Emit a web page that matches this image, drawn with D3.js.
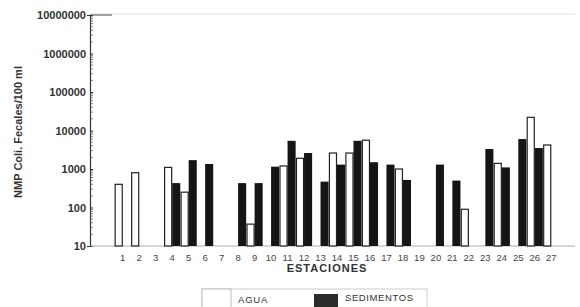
<!DOCTYPE html>
<html>
<head>
<meta charset="utf-8">
<script src="https://cdn.jsdelivr.net/npm/d3@7/dist/d3.min.js"></script>
<style>
  body { margin: 0; background: #fff; }
  svg { font-family: "Liberation Sans", Arial, sans-serif; }
</style>
</head>
<body>
<div id="chart"></div>
<script>
// Estaciones de muestreo (1..27)
const estaciones = d3.range(1, 28).map(String);

// NMP coliformes fecales / 100 ml (null = sin barra)
const agua = [400, 800, null, 1100, 250, null, null, null, 37, null,
              1200, 1900, null, 2600, 2600, 5600, null, 1000, null, null,
              null, 90, null, 1400, null, 22000, 4200];
const sedimentos = [null, null, null, 430, 1700, 1350, null, 430, 430, 1150,
                    5400, 2600, 470, 1300, 5400, 1500, 1300, 520, null, 1300,
                    500, null, 3300, 1100, 6000, 3500, null];

const yTicks = [10, 100, 1000, 10000, 100000, 1000000, 10000000];

const width = 580, height = 307;
const svg = d3.select("#chart").append("svg")
    .attr("width", width)
    .attr("height", height);

// Escalas
const x = d3.scaleBand()
    .domain(estaciones)
    .range([114.5, 559.5])
    .padding(0);

const inner = d3.scaleBand()
    .domain(["agua", "sedimentos"])
    .range([0, x.bandwidth()])
    .paddingInner(0)
    .paddingOuter(0.02);

const y = d3.scaleLog()
    .domain([10, 10000000])
    .range([246, 15]);

// borde superior tenue del marco
svg.append("line")
    .attr("x1", 90).attr("x2", 575)
    .attr("y1", 14).attr("y2", 14)
    .attr("stroke", "#e4e4e4");

// Eje Y con marcas menores
const yAxis = d3.axisLeft(y)
    .tickValues(yTicks)
    .tickFormat(d3.format("d"))
    .tickSize(3);

const gy = svg.append("g")
    .attr("transform", "translate(90,0)")
    .call(yAxis);
gy.select(".domain").attr("stroke", "#333").attr("stroke-width", 1.2);
gy.selectAll(".tick line").attr("x2", 3).attr("stroke", "#333");
gy.selectAll(".tick text")
    .attr("x", -4)
    .style("font-size", "11px")
    .style("font-weight", "bold")
    .attr("fill", "#333");

// marcas menores (2..9 de cada decada)
const menores = [];
for (let e = 1; e < 7; e++) {
  for (let k = 2; k < 10; k++) menores.push(k * Math.pow(10, e));
}
svg.append("g").selectAll("line")
  .data(menores)
  .join("line")
    .attr("x1", 90).attr("x2", 93)
    .attr("y1", d => y(d)).attr("y2", d => y(d))
    .attr("stroke", "#555")
    .attr("stroke-width", 0.7);

// linea corta en el tope
svg.append("line")
    .attr("x1", 90).attr("x2", 112)
    .attr("y1", 15).attr("y2", 15)
    .attr("stroke", "#444");

// Eje X
svg.append("line")
    .attr("x1", 90).attr("x2", 575)
    .attr("y1", y(10)).attr("y2", y(10))
    .attr("stroke", "#999")
    .attr("stroke-width", 0.8);

svg.append("g").selectAll("text")
  .data(estaciones)
  .join("text")
    .attr("x", d => x(d) + x.bandwidth() / 2)
    .attr("y", 261)
    .attr("text-anchor", "middle")
    .style("font-size", "9.5px")
    .attr("fill", "#444")
    .text(d => d);

// Barras
const filas = estaciones.map((e, i) => ({ estacion: e, agua: agua[i], sedimentos: sedimentos[i] }));

const grupos = svg.append("g").selectAll("g")
  .data(filas)
  .join("g")
    .attr("transform", d => `translate(${x(d.estacion)},0)`);

grupos.filter(d => d.agua !== null)
  .append("rect")
    .attr("x", inner("agua") + 0.5)
    .attr("width", inner.bandwidth() - 1)
    .attr("y", d => y(d.agua))
    .attr("height", d => y(10) - y(d.agua))
    .attr("fill", "#fff")
    .attr("stroke", "#222")
    .attr("stroke-width", 1.2);

grupos.filter(d => d.sedimentos !== null)
  .append("rect")
    .attr("x", inner("sedimentos"))
    .attr("width", inner.bandwidth())
    .attr("y", d => y(d.sedimentos))
    .attr("height", d => y(10) - y(d.sedimentos))
    .attr("fill", "#151515");

// Titulos de ejes
svg.append("text")
    .attr("transform", "translate(22,132) rotate(-90)")
    .attr("text-anchor", "middle")
    .style("font-size", "11px")
    .style("font-weight", "bold")
    .attr("fill", "#333")
    .text("NMP Coli. Fecales/100 ml");

svg.append("text")
    .attr("x", 327)
    .attr("y", 272)
    .attr("text-anchor", "middle")
    .style("font-size", "11px")
    .style("font-weight", "bold")
    .style("letter-spacing", "1px")
    .attr("fill", "#333")
    .text("ESTACIONES");

// Leyenda
const leyenda = svg.append("g");
leyenda.append("rect")
    .attr("x", 202).attr("y", 289)
    .attr("width", 225).attr("height", 22)
    .attr("fill", "none")
    .attr("stroke", "#ccc");
leyenda.append("rect")
    .attr("x", 202).attr("y", 289)
    .attr("width", 29).attr("height", 22)
    .attr("fill", "#fff")
    .attr("stroke", "#bbb");
leyenda.append("text")
    .attr("x", 238).attr("y", 303)
    .style("font-size", "9.5px")
    .style("letter-spacing", "0.8px")
    .attr("fill", "#333")
    .text("AGUA");
leyenda.append("rect")
    .attr("x", 314).attr("y", 294)
    .attr("width", 24).attr("height", 13)
    .attr("fill", "#2a2a2a");
leyenda.append("text")
    .attr("x", 345).attr("y", 301)
    .style("font-size", "9.5px")
    .style("letter-spacing", "0.6px")
    .attr("fill", "#333")
    .text("SEDIMENTOS");
</script>
</body>
</html>
